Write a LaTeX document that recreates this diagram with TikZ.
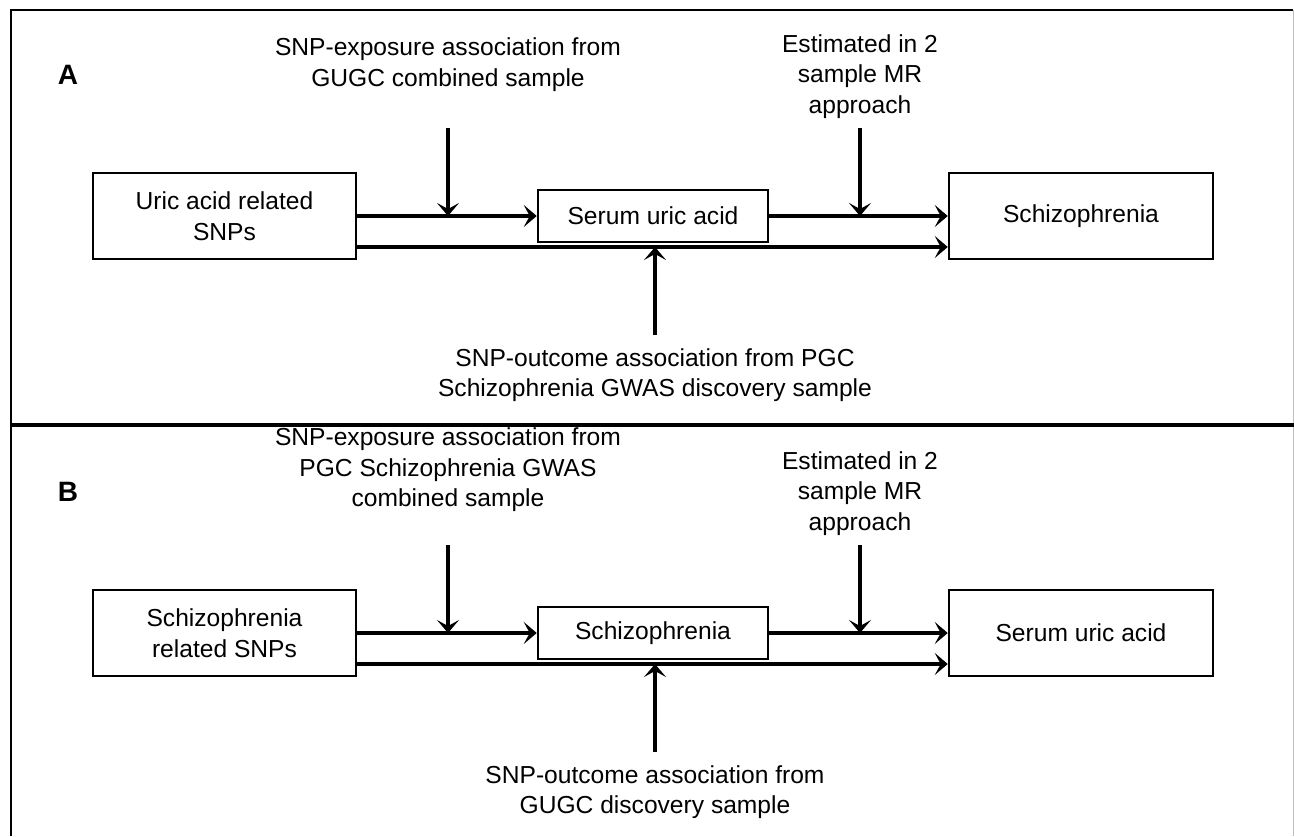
\documentclass[tikz,border=0pt]{standalone}
\usepackage{fontspec}
\setmainfont{Liberation Sans}
\usetikzlibrary{arrows.meta}
\begin{document}
\begin{tikzpicture}[x=1pt,y=-1pt,
 box/.style={draw,line width=2.5pt,align=center,inner sep=0pt,font=\fontsize{24.6}{31}\selectfont},
 lbl/.style={align=center,inner sep=0pt,font=\fontsize{24.6}{30.5}\selectfont},
 panel/.style={inner sep=0pt,font=\bfseries\fontsize{28}{32}\selectfont},
 arr/.style={line width=3.5pt,-{Stealth[length=13pt,width=22pt,inset=6pt]}},
 ]
\useasboundingbox (0,0) rectangle (1294,836);
% frame
\draw[line width=2.5pt] (11,836) -- (11,10) -- (1293,10);
\draw[gray!50, line width=1pt] (1293,10) -- (1293,836);
\draw[line width=4.5pt] (11,425) -- (1294,425);

% ---------- Panel A ----------
\node[panel] (pa) at (68,75) {A};
\node[box,minimum width=263pt,minimum height=86pt] (a1) at (224.5,216) {Uric acid related\\SNPs};
\node[box,minimum width=230pt,minimum height=52pt] (a2) at (653,216) {Serum uric acid};
\node[box,minimum width=264pt,minimum height=86pt] (a3) at (1081,216) {Schizophrenia};
\coordinate (la1) at ([yshift=-31pt]a1.east);
\coordinate (la3) at ([yshift=-31pt]a3.west);
\draw[arr] (a1.east) -- (a2.west);
\draw[arr] (a2.east) -- (a3.west);
\draw[arr] (la1) -- (la3);
\node[lbl,anchor=south] (ea) at (448,91.5) {SNP-exposure association from\\GUGC combined sample};
\node[lbl,anchor=south] (ma) at (860,118.5) {Estimated in 2\\sample MR\\approach};
\node[lbl,anchor=north] (oa) at (655,348) {SNP-outcome association from PGC\\Schizophrenia GWAS discovery sample};
\coordinate (ta) at (448,128);
\coordinate (tb) at (860,128);
\coordinate (ua) at (655,335);
\draw[arr] (ta) -- (ta |- a1.east);
\draw[arr] (tb) -- (tb |- a1.east);
\draw[arr] (ua) -- (ua |- la1);

% ---------- Panel B ----------
\node[panel] (pb) at (68,492) {B};
\node[box,minimum width=263pt,minimum height=86pt] (b1) at (224.5,633) {Schizophrenia\\related SNPs};
\node[box,minimum width=230pt,minimum height=52pt] (b2) at (653,633) {Schizophrenia};
\node[box,minimum width=264pt,minimum height=86pt] (b3) at (1081,633) {Serum uric acid};
\coordinate (lb1) at ([yshift=-31pt]b1.east);
\coordinate (lb3) at ([yshift=-31pt]b3.west);
\draw[arr] (b1.east) -- (b2.west);
\draw[arr] (b2.east) -- (b3.west);
\draw[arr] (lb1) -- (lb3);
\node[lbl,anchor=south] (eb) at (448,512) {SNP-exposure association from\\PGC Schizophrenia GWAS\\combined sample};
\node[lbl,anchor=south] (mb) at (860,535.5) {Estimated in 2\\sample MR\\approach};
\node[lbl,anchor=north] (ob) at (655,765) {SNP-outcome association from\\GUGC discovery sample};
\coordinate (tc) at (448,545);
\coordinate (td) at (860,545);
\coordinate (ub) at (655,752);
\draw[arr] (tc) -- (tc |- b1.east);
\draw[arr] (td) -- (td |- b1.east);
\draw[arr] (ub) -- (ub |- lb1);
\end{tikzpicture}
\end{document}
